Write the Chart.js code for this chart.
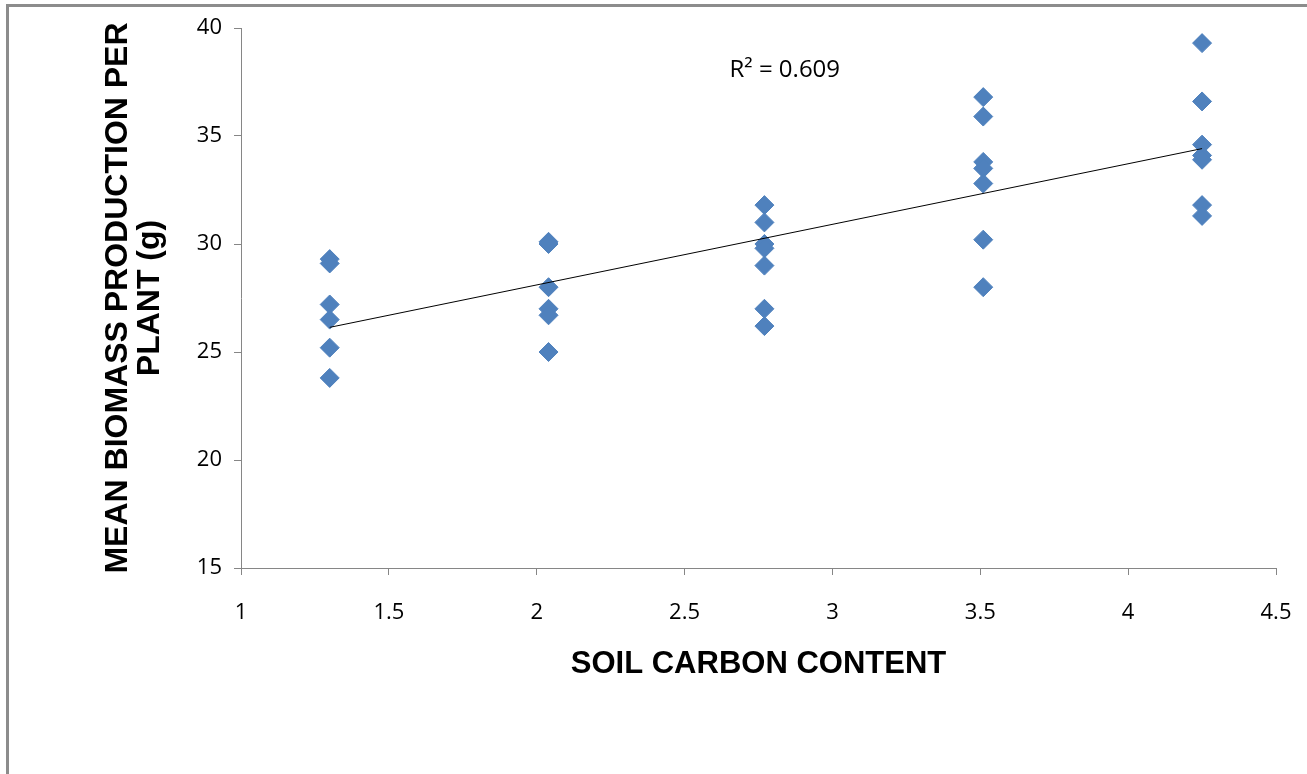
<!DOCTYPE html>
<html>
<head>
<meta charset="utf-8">
<script src="https://cdn.jsdelivr.net/npm/chart.js@4.4.1/dist/chart.umd.min.js"></script>
<style>
  html, body { margin: 0; padding: 0; background: #ffffff; overflow: hidden; }
  #wrap { position: relative; width: 1307px; height: 774px; }
  #frame { position: absolute; left: 6px; top: 4px; width: 1400px; height: 900px;
           border-top: 3px solid #8c8c8c; border-left: 3px solid #8c8c8c; box-sizing: border-box; }
  canvas { position: absolute; left: 0; top: 0; }
</style>
</head>
<body>
<div id="wrap">
  <div id="frame"></div>
  <canvas id="c" width="1307" height="774"></canvas>
</div>
<script>
// ---- data ----
const soilCarbon = [1.30, 2.04, 2.77, 3.51, 4.25];
const biomassAt130 = [29.3, 29.1, 27.2, 26.5, 25.2, 23.8];
const biomassAt204 = [30.1, 30.0, 28.0, 27.0, 26.7, 25.0];
const biomassAt277 = [31.8, 31.0, 30.0, 29.8, 29.0, 27.0, 26.2];
const biomassAt351 = [36.8, 35.9, 33.8, 33.5, 32.8, 30.2, 28.0];
const biomassAt425 = [39.3, 36.6, 34.6, 34.1, 33.9, 31.8, 31.3];
const xTickValues = [1, 1.5, 2, 2.5, 3, 3.5, 4, 4.5];
const yTickValues = [15, 20, 25, 30, 35, 40];
const rSquaredLabel = 'R\u00b2 = 0.609';
const xTitle = 'SOIL CARBON CONTENT';
const yTitle = ['MEAN BIOMASS PRODUCTION PER', 'PLANT (g)'];

// build scatter points
const groups = [biomassAt130, biomassAt204, biomassAt277, biomassAt351, biomassAt425];
const points = [];
groups.forEach((g, i) => g.forEach(v => points.push({ x: soilCarbon[i], y: v })));

// least-squares trendline from the points
const n = points.length;
const mx = points.reduce((s, p) => s + p.x, 0) / n;
const my = points.reduce((s, p) => s + p.y, 0) / n;
let sxy = 0, sxx = 0;
points.forEach(p => { sxy += (p.x - mx) * (p.y - my); sxx += (p.x - mx) ** 2; });
const slope = sxy / sxx, intercept = my - slope * mx;
const xMin = Math.min(...soilCarbon), xMax = Math.max(...soilCarbon);
const trend = [{ x: xMin, y: intercept + slope * xMin }, { x: xMax, y: intercept + slope * xMax }];

const axisColor = '#868686';
const tickFont = { family: '"Open Sans", "Liberation Sans", sans-serif', size: 22 };

const r2Plugin = {
  id: 'r2label',
  afterDatasetsDraw(chart) {
    const { ctx, scales } = chart;
    ctx.save();
    ctx.font = '24px "Open Sans", "Liberation Sans", sans-serif';
    ctx.fillStyle = '#000';
    ctx.textAlign = 'left';
    ctx.textBaseline = 'middle';
    ctx.fillText(rSquaredLabel, scales.x.getPixelForValue(2.652), scales.y.getPixelForValue(38.05));
    ctx.restore();
  }
};

new Chart(document.getElementById('c'), {
  type: 'scatter',
  data: {
    datasets: [
      {
        label: 'Biomass',
        data: points,
        pointStyle: 'rectRot',
        pointRadius: 9.5,
        pointHoverRadius: 9.5,
        backgroundColor: '#4F81BD',
        borderColor: '#4F81BD',
        borderWidth: 1,
        order: 2
      },
      {
        label: 'Linear trend',
        type: 'line',
        data: trend,
        borderColor: '#000000',
        borderWidth: 1,
        pointRadius: 0,
        fill: false,
        order: 1
      }
    ]
  },
  options: {
    responsive: false,
    animation: false,
    devicePixelRatio: 1,
    layout: { padding: { left: 0, top: 28, right: 31, bottom: 0 } },
    plugins: { legend: { display: false }, tooltip: { enabled: false } },
    scales: {
      x: {
        type: 'linear',
        min: 1, max: 4.5,
        afterBuildTicks: s => { s.ticks = xTickValues.map(v => ({ value: v })); },
        afterFit: s => { s.height = 206; s.paddingRight = 0; s.paddingLeft = 0; },
        grid: { drawOnChartArea: false, drawTicks: true, tickLength: 7, color: axisColor },
        border: { display: true, color: axisColor, width: 1 },
        ticks: { color: '#000', font: tickFont, padding: 25, maxRotation: 0,
                 callback: v => String(v) },
        title: { display: true, text: xTitle, color: '#000',
                 font: { family: '"Liberation Sans", Arial, sans-serif', size: 31, weight: 'bold', lineHeight: 1.2 },
                 padding: { top: 0, bottom: 91 } }
      },
      y: {
        type: 'linear',
        min: 15, max: 40,
        afterBuildTicks: s => { s.ticks = yTickValues.map(v => ({ value: v })); },
        afterFit: s => { s.width = 241; s.paddingTop = 0; s.paddingBottom = 0; },
        grid: { drawOnChartArea: false, drawTicks: true, tickLength: 7, color: axisColor },
        border: { display: true, color: axisColor, width: 1 },
        ticks: { color: '#000', font: tickFont, padding: 12, callback: v => String(v) },
        title: { display: true, text: yTitle, color: '#000',
                 font: { family: '"Liberation Sans", Arial, sans-serif', size: 32, weight: 'bold', lineHeight: 1.0 },
                 padding: { top: 102, bottom: 0 } }
      }
    }
  },
  plugins: [r2Plugin]
});
</script>
</body>
</html>
